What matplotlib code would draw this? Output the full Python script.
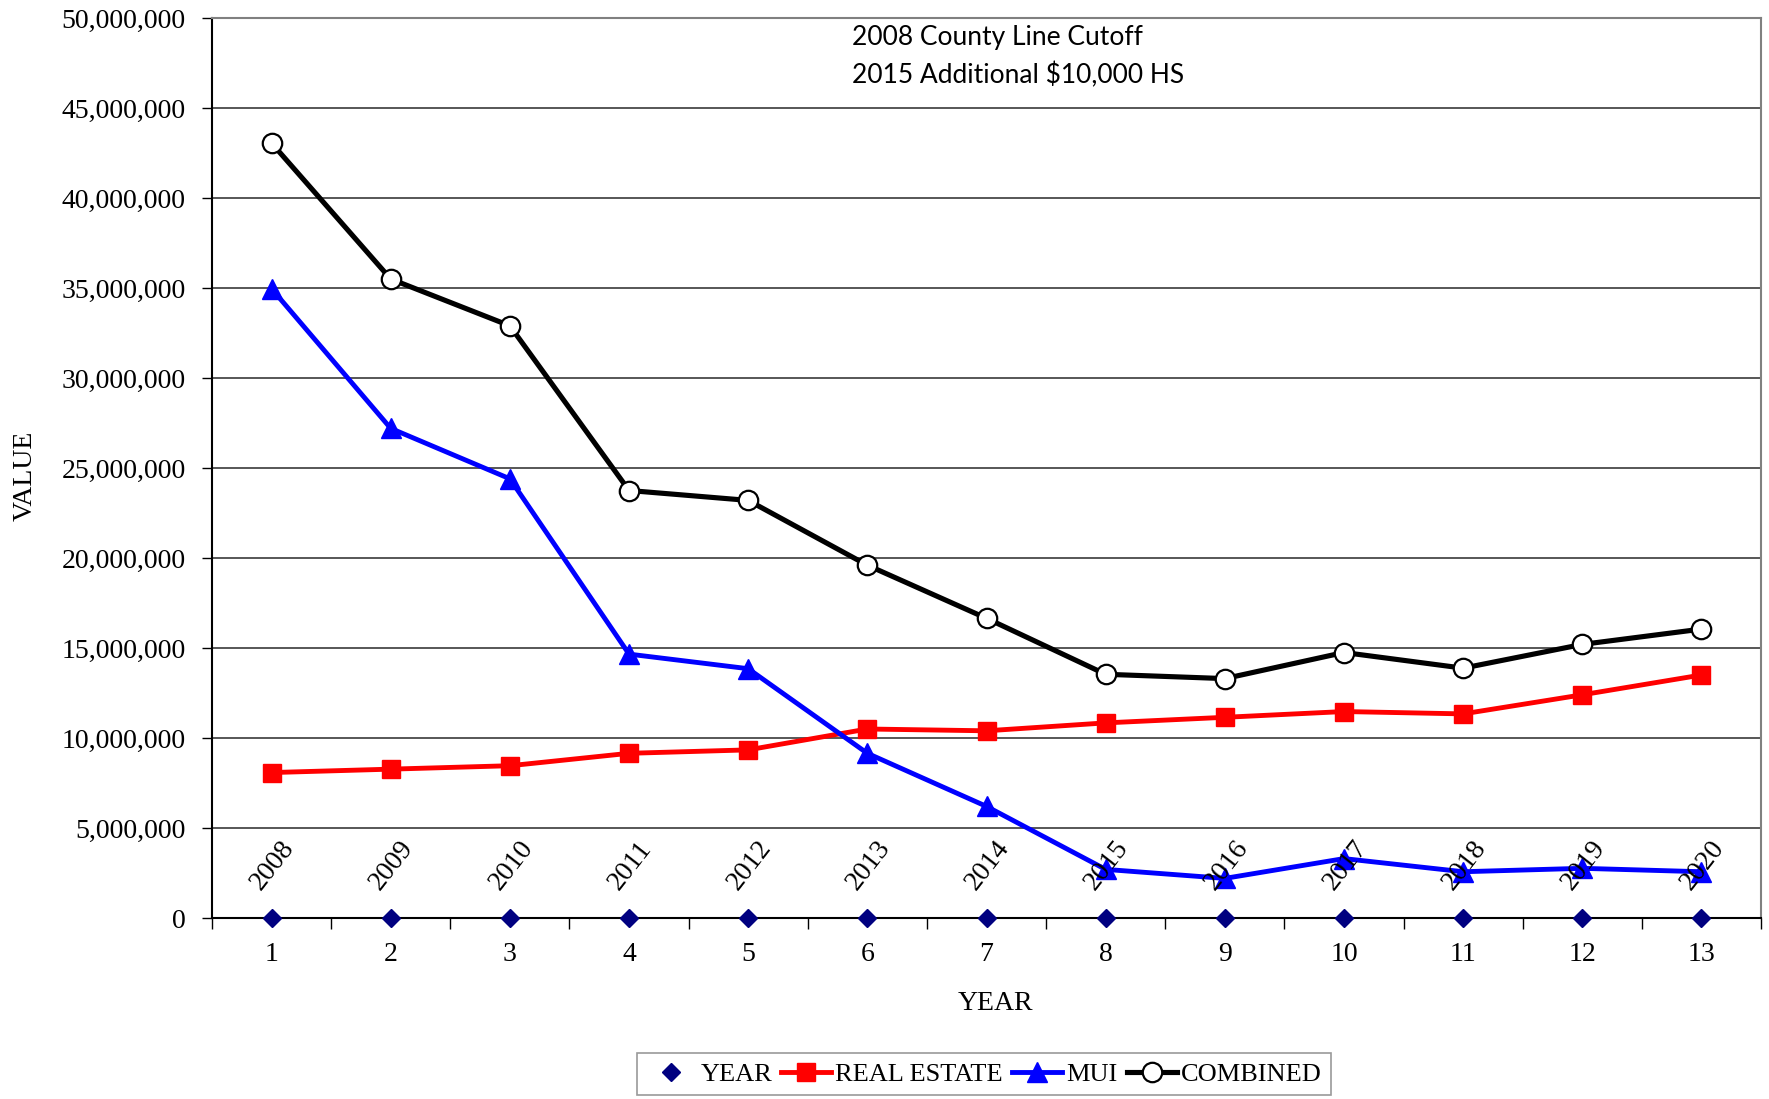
import matplotlib
matplotlib.use("Agg")
import matplotlib.pyplot as plt
from matplotlib.ticker import FuncFormatter, FixedLocator

# ---- data ----
x_idx = list(range(1, 14))
years = [2008, 2009, 2010, 2011, 2012, 2013, 2014, 2015, 2016, 2017, 2018, 2019, 2020]
real_estate = [8.08e6, 8.27e6, 8.46e6, 9.15e6, 9.34e6, 10.5e6, 10.4e6, 10.84e6, 11.15e6, 11.47e6, 11.34e6, 12.4e6, 13.5e6]
mui = [34.96e6, 27.2e6, 24.4e6, 14.66e6, 13.85e6, 9.15e6, 6.2e6, 2.7e6, 2.2e6, 3.3e6, 2.57e6, 2.76e6, 2.57e6]
combined = [43.05e6, 35.5e6, 32.9e6, 23.75e6, 23.2e6, 19.6e6, 16.65e6, 13.54e6, 13.3e6, 14.75e6, 13.88e6, 15.2e6, 16.05e6]
y_ticks = list(range(0, 50_000_001, 5_000_000))
note_lines = ["2008 County Line Cutoff", "2015 Additional $10,000 HS"]

serif = "Liberation Serif"
W, H = 1769, 1099
fig = plt.figure(figsize=(W / 100, H / 100), dpi=100)
ax = fig.add_axes([212 / W, 1 - 918 / H, (1761 - 212) / W, (918 - 18) / H])

ax.set_xlim(0.5, 13.5)
ax.set_ylim(0, 50_000_000)

# gridlines
ax.yaxis.set_major_locator(FixedLocator(y_ticks))
ax.grid(axis="y", color="#3a3a3a", linewidth=1.2, zorder=0)
ax.set_axisbelow(True)

# series
ax.plot(x_idx, years, linestyle="none", marker="D", markersize=9, color="#000080",
        label="YEAR", zorder=5, clip_on=False)
ax.plot(x_idx, real_estate, color="#ff0000", linewidth=3.5, marker="s", markersize=13,
        label="REAL ESTATE", zorder=3)
ax.plot(x_idx, mui, color="#0000ff", linewidth=3.5, marker="^", markersize=15,
        label="MUI", zorder=3)
ax.plot(x_idx, combined, color="black", linewidth=3.7, marker="o", markersize=14,
        markerfacecolor="white", markeredgecolor="black", markeredgewidth=1.6,
        label="COMBINED", zorder=4)

# year data labels
for xi, yr in zip(x_idx, years):
    ax.annotate(str(yr), (xi, yr), xytext=(1, 38), textcoords="offset points",
                rotation=52, ha="center", va="center", fontsize=20, family=serif,
                zorder=6)

# axes styling
for s in ["top", "right"]:
    ax.spines[s].set_color("#808080")
    ax.spines[s].set_linewidth(1.5)
for s in ["left", "bottom"]:
    ax.spines[s].set_color("black")
    ax.spines[s].set_linewidth(1.5)

ax.yaxis.set_major_formatter(FuncFormatter(lambda v, p: f"{int(v):,}"))
ax.tick_params(axis="y", direction="out", length=7, width=1, pad=12,
               labelsize=20)
for lab in ax.get_yticklabels():
    lab.set_family(serif)

ax.set_xticks([i + 0.5 for i in range(0, 14)])
ax.set_xticklabels([])
ax.set_xticks(x_idx, minor=True)
ax.set_xticklabels([str(i) for i in x_idx], minor=True, family=serif, fontsize=20)
ax.tick_params(axis="x", which="major", direction="out", length=8, width=1)
ax.tick_params(axis="x", which="minor", length=0, pad=17)

fig.text(25 / W, 1 - 476 / H, "VALUE", rotation=90, ha="center", va="center",
         family=serif, fontsize=20)
fig.text(995 / W, 1 - 1004 / H, "YEAR", ha="center", va="center",
         family=serif, fontsize=20)

fig.text(852 / W, 1 - 38 / H, note_lines[0], ha="left", va="center",
         family="Lato", fontsize=19)
fig.text(852 / W, 1 - 75 / H, note_lines[1], ha="left", va="center",
         family="Lato", fontsize=19)

leg = fig.legend(loc="center", bbox_to_anchor=(984 / W, 1 - 1074 / H), ncol=4,
                 frameon=True, fancybox=False, edgecolor="#808080",
                 prop={"family": serif, "size": 19}, handlelength=1.9,
                 handletextpad=0.15, columnspacing=0.35, borderpad=0.35)
leg.get_frame().set_linewidth(1.2)

fig.savefig("out.png", dpi=100)
